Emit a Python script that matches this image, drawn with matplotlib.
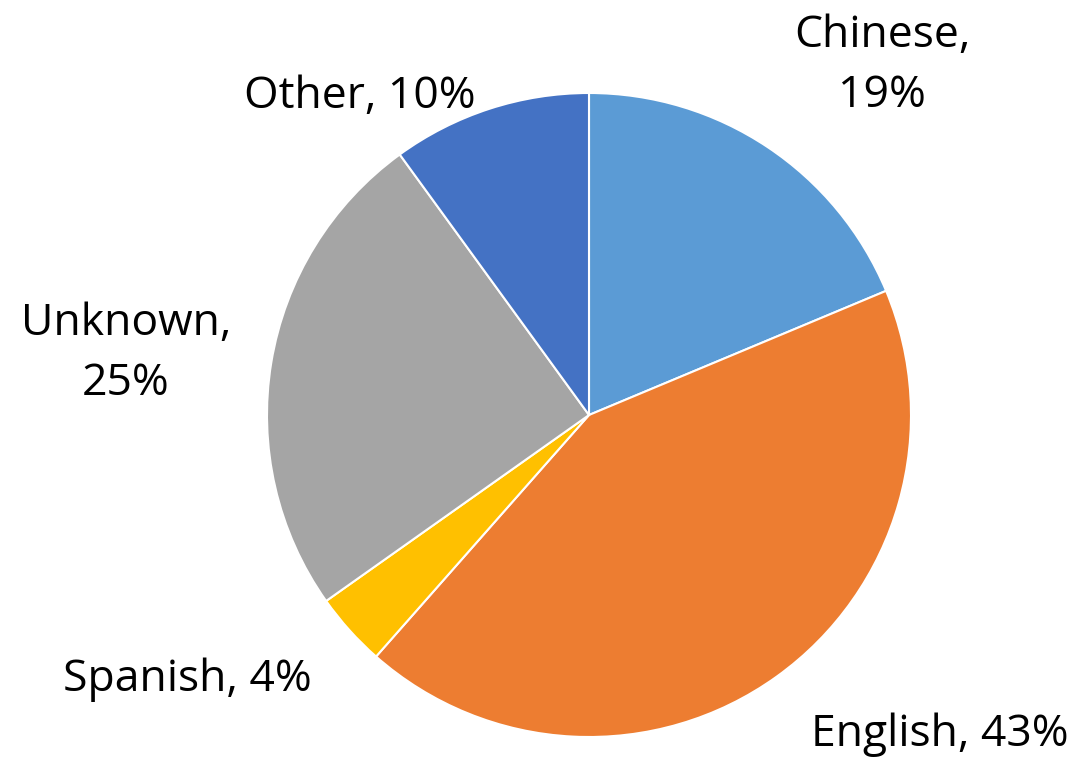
import matplotlib.pyplot as plt

plt.rcParams['font.family'] = ['Open Sans', 'DejaVu Sans']

languages = ["Chinese", "English", "Spanish", "Unknown", "Other"]
shares = [18.7, 42.8, 3.7, 24.8, 10.0]
shown_pct = ["19%", "43%", "4%", "25%", "10%"]
colors = ["#5B9BD5", "#ED7D31", "#FFC000", "#A5A5A5", "#4472C4"]

W, H = 1083, 758
fig = plt.figure(figsize=(W / 100, H / 100), dpi=100)
ax = fig.add_axes([0, 0, 1, 1])

ax.pie(shares, colors=colors, startangle=90, counterclock=False,
       center=(589, H - 415), radius=322,
       wedgeprops=dict(edgecolor="white", linewidth=1.5), frame=True)
ax.set_xlim(0, W)
ax.set_ylim(0, H)
ax.set_aspect("equal")
ax.axis("off")

# label positions (pixel coords from the top-left)
label_pos = {
    "Chinese": (882, 66, True),
    "English": (940, 735, False),
    "Spanish": (187, 680, False),
    "Unknown": (126, 354, True),
    "Other": (360, 97, False),
}
for name, pct in zip(languages, shown_pct):
    x, y, two_lines = label_pos[name]
    txt = f"{name},\n{pct}" if two_lines else f"{name}, {pct}"
    ax.text(x, H - y, txt, ha="center", va="center", fontsize=32,
            color="#000000", linespacing=1.45)

fig.savefig("out.png", dpi=100)
